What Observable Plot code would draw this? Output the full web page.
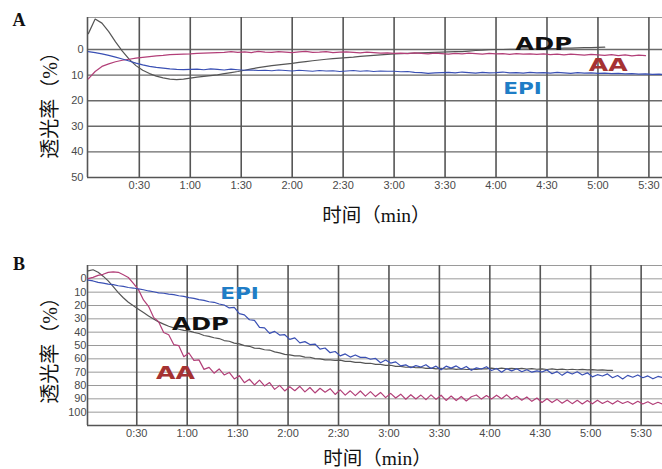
<!DOCTYPE html>
<html><head><meta charset="utf-8">
<script src="https://cdn.jsdelivr.net/npm/d3@7"></script>
<script src="https://cdn.jsdelivr.net/npm/@observablehq/plot@0.6"></script>
<style>body{margin:0;background:#fff;} svg{display:block;}</style>
</head><body><div id="chart"></div>
<script>
// ---- tick values & labels ----
const timeTicks = [30, 60, 90, 120, 150, 180, 210, 240, 270, 300, 330];
const timeLabels = ["0:30","1:00","1:30","2:00","2:30","3:00","3:30","4:00","4:30","5:00","5:30"];
const yTicksA = [0, 10, 20, 30, 40, 50];
const yTicksB = [0, 10, 20, 30, 40, 50, 60, 70, 80, 90, 100];
const seriesNames = ["ADP", "AA", "EPI"];
const xTitle = "时间（min）";
const yTitle = "透光率（%）";

// ---- Panel A: sampled every 4 s from t = 0 s ----
const startA = 0, stepA = 4;
const adpA = [-6.2,-11.9,-10.3,-7.0,-3.0,0.6,3.8,6.3,8.1,9.4,10.4,11.1,11.6,11.8,11.6,11.2,10.8,10.5,10.2,9.9,9.4,9.0,8.6,8.1,7.6,7.1,6.7,6.3,6.0,5.7,5.4,5.0,4.7,4.4,4.1,3.8,3.6,3.4,3.2,3.0,2.7,2.5,2.3,2.1,1.9,1.7,1.6,1.5,1.4,1.3,1.2,1.1,1.0,0.9,0.8,0.8,0.6,0.4,0.3,0.1,0.0,0.0,-0.1,-0.1,-0.2,-0.2,-0.3,-0.3,-0.4,-0.4,-0.5,-0.5,-0.6,-0.7,-0.7,-0.8,-0.9];
const aaA = [11.5,8.6,6.6,5.6,4.8,4.2,3.8,3.4,3.1,2.8,2.5,2.3,2.0,1.9,1.8,1.7,1.5,1.4,1.3,1.2,1.1,
  0.8,1.1,0.9,1.2,0.7,1.0,1.1,0.8,1.0,1.2,0.9,0.7,1.1,1.0,0.8,1.2,1.0,0.9,1.1,1.3,1.0,1.2,1.4,1.3,1.5,
  1.4,1.6,1.3,1.5,1.7,1.4,1.6,1.8,1.5,1.7,1.4,1.6,1.8,1.5,1.7,1.6,1.9,1.6,1.8,1.7,
  1.9,1.7,2.0,1.8,2.1,1.8,2.0,2.2,1.9,2.1,2.3,2.0,2.4,2.1,2.5,2.2,2.4];
const epiA = [0.8,1.2,1.7,2.3,3.0,3.7,4.5,5.3,6.0,6.6,7.0,7.3,7.6,7.8,7.9,7.8,
  7.7,7.9,7.6,7.8,8.0,7.7,7.9,8.1,8.0,8.2,
  8.1,8.3,8.0,8.2,8.4,8.1,8.3,8.5,8.2,8.4,8.3,8.6,8.4,8.2,8.5,8.3,8.6,8.4,8.5,8.5,
  8.7,8.6,8.9,9.0,9.3,9.1,9.0,
  8.9,9.1,8.8,9.0,9.2,8.9,9.1,9.0,8.8,9.1,9.0,9.2,8.9,9.1,9.0,9.2,8.9,9.1,9.3,9.0,9.2,9.1,9.3,
  9.2,9.4,9.3,9.5,9.4,9.6,9.5,9.7,9.6,9.8];

// ---- Panel B: sampled every 3 s from t = 1 s ----
const startB = 1, stepB = 3;
const adpB = [-6.0,-6.8,-5.0,-2.0,1.5,5.8,10.3,14.2,17.6,20.2,
  22.8,25.3,27.8,30.2,32.3,34.0,35.6,36.8,37.8,38.6,
  39.0,40.2,41.0,42.5,43.1,44.2,44.8,46.3,46.8,48.2,
  48.8,50.1,50.6,52.0,52.2,53.2,53.4,54.8,55.5,56.7,
  57.0,57.8,57.8,58.7,58.8,59.8,60.0,60.8,60.8,61.2,
  61.0,61.9,61.9,62.7,62.7,63.4,63.3,64.1,64.1,64.9,
  64.8,65.6,65.6,66.3,66.1,66.7,66.5,67.1,66.9,67.5,
  67.2,67.7,67.4,67.9,67.6,68.0,67.7,67.9,67.5,67.6,
  67.0,67.5,67.0,67.5,67.1,67.6,67.2,67.7,67.3,67.8,
  67.6,68.0,67.6,68.1,67.7,68.2,67.8,68.2,67.9,68.3,
  68.1,68.5,68.3,68.7,68.6];
const aaB = [-0.2,-1.1,-2.6,-3.4,-4.8,-5.2,-4.9,-3.0,-1.0,3.4,
  8.1,15.8,20.6,28.9,32.1,40.2,42.0,49.3,50.1,58.4,
  55.6,61.2,60.8,67.9,66.4,70.8,67.6,72.1,70.2,75.1,
  72.6,77.9,75.3,79.6,76.0,80.3,77.8,82.9,79.9,84.1,
  81.0,83.9,80.6,84.8,81.5,85.6,82.1,85.0,82.4,86.7,
  83.3,87.2,84.0,87.6,84.1,88.0,84.6,88.3,85.2,89.1,
  85.9,89.4,86.5,90.3,86.9,90.1,87.2,90.6,87.0,90.4,
  87.3,91.2,87.9,91.3,88.2,91.6,88.4,87.1,90.2,87.5,
  90.1,87.3,89.9,87.0,90.3,88.1,91.0,88.6,91.9,89.4,
  92.7,90.0,92.8,90.4,93.3,90.8,93.6,91.1,93.8,91.3,
  93.7,91.0,93.5,91.6,93.9,91.4,93.5,92.0,94.1,91.8,
  93.9,92.2,94.3,92.6,94.0];
const epiB = [1.0,1.6,2.6,3.2,4.0,4.4,5.2,5.7,6.5,6.9,
  7.6,8.2,9.1,9.7,10.5,10.8,11.4,11.8,12.7,13.2,
  14.1,14.7,15.6,16.2,17.2,17.6,18.9,19.6,21.8,21.4,
  26.1,27.0,30.7,31.2,36.4,36.8,40.9,39.4,42.2,41.9,
  45.4,44.3,48.0,47.1,49.3,48.9,52.7,51.9,55.4,54.5,
  57.8,56.3,58.7,57.1,58.9,58.8,60.3,59.7,62.9,60.9,
  63.2,62.3,65.3,64.5,66.7,65.1,66.1,64.4,67.2,65.5,
  68.2,65.5,67.0,65.3,67.6,65.7,68.6,66.8,67.6,65.9,
  68.8,67.2,70.0,67.4,69.0,67.4,69.7,68.2,70.0,69.0,
  69.9,68.3,71.2,69.6,72.4,69.8,71.4,69.7,72.1,70.5,
  73.5,71.9,72.9,71.3,74.2,72.5,75.1,72.4,73.8,72.1,
  74.2,72.8,75.0,73.2,74.1];

// ---- styling ----
const lineColors = {ADP: "#555555", AA: "#b23f78", EPI: "#3a50b4"};
const labelColors = {ADP: "#111111", AA: "#a53232", EPI: "#1f7dc6"};
const labelScale = {ADP: 1.35, AA: 1.4, EPI: 1.35};
const labelSize = {ADP: 18, AA: 18, EPI: 16};
const serifCJK = "'Liberation Serif', 'Noto Sans CJK SC', serif";
const tickFmt = d => timeLabels[timeTicks.indexOf(d)];

function rowsFor(values, start, step) {
  return values.map((v, i) => ({t: start + i * step, v}));
}

function panel(cfg) {
  const marks = [
    Plot.ruleY(cfg.hLines, {stroke: cfg.hColor, strokeWidth: cfg.hWidth}),
    Plot.ruleY([cfg.yDomain[0]], {stroke: "#9a9a9a", strokeWidth: 1}),
    Plot.ruleX(timeTicks, {stroke: "#555", strokeWidth: 1.6}),
    Plot.ruleY([cfg.yDomain[1]], {stroke: "#555", strokeWidth: 1.6}),
    Plot.ruleX([cfg.xDomain[0]], {stroke: "#555", strokeWidth: 1.6})
  ];
  cfg.series.forEach((vals, k) => {
    const name = seriesNames[k];
    marks.push(Plot.line(rowsFor(vals, cfg.start, cfg.step), {x: "t", y: "v", stroke: lineColors[name], strokeWidth: 1.2}));
  });
  cfg.labels.forEach(l => {
    marks.push(Plot.text([l], {x: "t", y: "v", text: "s", fill: labelColors[l.s], fontSize: labelSize[l.s],
      fontWeight: "bold", fontFamily: "'DejaVu Sans', Verdana, sans-serif", textAnchor: "middle", lineAnchor: "middle"}));
  });
  marks.push(Plot.text([cfg.panelLabel], {x: "t", y: "v", text: "s", fontSize: 18, fontWeight: "bold",
    fontFamily: "'Liberation Serif', serif", fill: "#111", textAnchor: "middle", lineAnchor: "middle"}));
  marks.push(Plot.text([cfg.xTitlePos], {x: "t", y: "v", text: d => xTitle, fontSize: 19.5,
    fontFamily: serifCJK, fill: "#111", textAnchor: "middle", lineAnchor: "middle"}));
  marks.push(Plot.text([cfg.yTitlePos], {x: "t", y: "v", text: d => yTitle, fontSize: 20, rotate: -90,
    fontFamily: serifCJK, fill: "#111", textAnchor: "middle", lineAnchor: "middle"}));

  const svg = Plot.plot({
    width: 662, height: cfg.height,
    marginTop: cfg.mt, marginBottom: cfg.mb, marginLeft: 87, marginRight: 0,
    style: {fontFamily: "'Liberation Sans', Arial, sans-serif", fontSize: "11px", color: "#4a4a4a", background: "#fff", overflow: "visible"},
    x: {domain: cfg.xDomain, ticks: timeTicks, tickFormat: tickFmt, tickSize: 0, tickPadding: 4, label: null},
    y: {domain: cfg.yDomain, reverse: true, ticks: cfg.yTicks, tickSize: 0, tickPadding: cfg.yPad, label: null},
    marks
  });
  svg.querySelectorAll("text").forEach(el => {
    const s = el.textContent;
    if (labelScale[s] && el.getAttribute("transform")) {
      el.setAttribute("transform", el.getAttribute("transform") + ` scale(${labelScale[s]},1)`);
    }
  });
  return svg;
}

const chart = document.getElementById("chart");
chart.appendChild(panel({
  height: 234, mt: 17, mb: 57,
  xDomain: [-0.5, 338], yDomain: [-12.5, 50], yTicks: yTicksA, yPad: 4,
  hLines: yTicksA.slice(0, -1), hColor: "#6a6a6a", hWidth: 1.4,
  start: startA, step: stepA, series: [adpA, aaA, epiA],
  labels: [{s: "ADP", t: 268, v: -2.0}, {s: "AA", t: 306, v: 6.0}, {s: "EPI", t: 255.6, v: 15.2}],
  panelLabel: {s: "A", t: -40.8, v: -11.3},
  xTitlePos: {t: 169.6, v: 64.8},
  yTitlePos: {t: -22.3, v: 19.9}
}));
chart.appendChild(panel({
  height: 235, mt: 31, mb: 44,
  xDomain: [0.7, 342.7], yDomain: [-10, 110], yTicks: yTicksB, yPad: 1,
  hLines: [...yTicksB], hColor: "#9a9a9a", hWidth: 1,
  start: startB, step: stepB, series: [adpB, aaB, epiB],
  labels: [{s: "ADP", t: 67.9, v: 33.9}, {s: "AA", t: 53.0, v: 71.0}, {s: "EPI", t: 91.1, v: 11.0}],
  panelLabel: {s: "B", t: -40.0, v: -10.75},
  xTitlePos: {t: 173.2, v: 134.75},
  yTitlePos: {t: -21.3, v: 50.0}
}));
</script>
</body></html>
